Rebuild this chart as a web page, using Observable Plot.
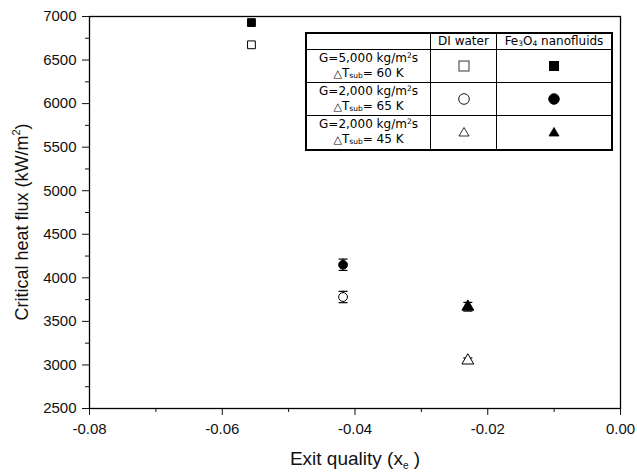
<!DOCTYPE html>
<html>
<head>
<meta charset="utf-8">
<script src="https://cdn.jsdelivr.net/npm/d3@7"></script>
<script src="https://cdn.jsdelivr.net/npm/@observablehq/plot@0.6"></script>
<style>
  body { margin: 0; background: white; }
  #wrap { position: relative; width: 637px; height: 472px; }
  #legend { position: absolute; left: 305px; top: 32px; border-collapse: collapse;
    font-family: "DejaVu Sans", sans-serif; font-size: 12px; color: #000;
    background: white; border: 2px solid #000; }
  #legend td { border: 1px solid #000; padding: 0; text-align: center; line-height: 15px; white-space: nowrap; }
  #legend sub { font-size: 7.5px; vertical-align: -1px; line-height: 0; }
  #legend sup { font-size: 7.5px; vertical-align: 4px; line-height: 0; }
  #legend .tri { font-size: 11px; }
</style>
</head>
<body>
<div id="wrap"></div>
<script>
// ---- data ----
const conditionLine1 = ["G=5,000 kg/m²s", "G=2,000 kg/m²s", "G=2,000 kg/m²s"];
const conditionDT = ["60", "65", "45"];
const conditions = ["G5000_60K", "G2000_65K", "G2000_45K"];
const symbols = ["square", "circle", "triangle"];
const exitQuality = [-0.0556, -0.0418, -0.0230];
const chfWater = [6675, 3780, 3050];
const chfNano = [6930, 4150, 3668];
const errWater = [0, 65, 30];
const errNano = [0, 65, 50];
const fluids = ["DI water", "Fe3O4 nanofluids"];

const xTicks = [-0.08, -0.06, -0.04, -0.02, 0];
const xTickLabels = ["-0.08", "-0.06", "-0.04", "-0.02", "0.00"];
const xMinor = [-0.07, -0.05, -0.03, -0.01];
const yTicks = [2500, 3000, 3500, 4000, 4500, 5000, 5500, 6000, 6500, 7000];
const yMinor = [2750, 3250, 3750, 4250, 4750, 5250, 5750, 6250, 6750];

const points = [];
conditions.forEach((c, i) => {
  points.push({cond: c, fluid: fluids[0], x: exitQuality[i], y: chfWater[i], err: errWater[i]});
  points.push({cond: c, fluid: fluids[1], x: exitQuality[i], y: chfNano[i], err: errNano[i]});
});
const withErr = points.filter(d => d.err > 0);

const cap = {draw(ctx) { ctx.moveTo(-4.5, 0); ctx.lineTo(4.5, 0); }};

const plot = Plot.plot({
  width: 637, height: 472,
  marginLeft: 89, marginRight: 17, marginTop: 16, marginBottom: 64,
  x: {domain: [-0.08, 0]},
  y: {domain: [2500, 7000]},
  symbol: {domain: conditions, range: symbols},
  color: {type: "identity"},
  style: {fontFamily: "'Liberation Sans', Arial, sans-serif", fontSize: "15px", color: "#111", background: "white"},
  marks: [
    Plot.axisX({ticks: xTicks, tickSize: 7, tickPadding: 8, label: null,
      tickFormat: d => xTickLabels[xTicks.indexOf(d)], fontSize: 15}),
    Plot.axisX({ticks: xMinor, tickSize: 4, text: null, label: null}),
    Plot.axisY({ticks: yTicks, tickSize: 7, tickPadding: 6, label: null,
      tickFormat: d => String(d), fontSize: 15}),
    Plot.axisY({ticks: yMinor, tickSize: 4, text: null, label: null}),
    Plot.frame({stroke: "black", strokeWidth: 1.3}),
    Plot.ruleX(withErr, {x: "x", y1: d => d.y - d.err, y2: d => d.y + d.err, stroke: "black", strokeWidth: 1}),
    Plot.dot(withErr, {x: "x", y: d => d.y + d.err, symbol: cap, stroke: "black", strokeWidth: 1.2}),
    Plot.dot(withErr, {x: "x", y: d => d.y - d.err, symbol: cap, stroke: "black", strokeWidth: 1.2}),
    Plot.dot(points, {x: "x", y: "y", symbol: "cond",
      fill: d => d.fluid === fluids[1] ? "black" : "white",
      stroke: "black", strokeWidth: 1, r: 4.4})
  ]
});

const svg = d3.select(plot);
const xt = svg.append("text")
  .attr("x", 355).attr("y", 465).attr("text-anchor", "middle")
  .attr("font-size", 19).attr("fill", "#111");
xt.append("tspan").text("Exit quality (x");
xt.append("tspan").attr("dy", 4).attr("font-size", 10).text("e");
xt.append("tspan").attr("dy", -4).text(" )");

const yt = svg.append("text")
  .attr("transform", "translate(28,222) rotate(-90)").attr("text-anchor", "middle")
  .attr("font-size", 18).attr("fill", "#111");
yt.append("tspan").text("Critical heat flux (kW/m");
yt.append("tspan").attr("dy", -8).attr("font-size", 11).text("2");
yt.append("tspan").attr("dy", 8).text(")");

const wrap = document.getElementById("wrap");
wrap.appendChild(plot);

// ---- legend table ----
function sym(kind, filled) {
  const s = d3.create("svg").attr("width", 14).attr("height", 14).style("vertical-align", "middle");
  const f = filled ? "black" : "white";
  if (kind === "square") s.append("rect").attr("x", filled ? 2.5 : 2).attr("y", filled ? 2.5 : 2)
    .attr("width", filled ? 9 : 10).attr("height", filled ? 9 : 10).attr("fill", f).attr("stroke", "black").attr("stroke-width", filled ? 1 : 0.8);
  if (kind === "circle") s.append("circle").attr("cx", 7).attr("cy", 7).attr("r", 5.3)
    .attr("fill", f).attr("stroke", "black").attr("stroke-width", 0.9);
  if (kind === "triangle") s.append("path").attr("d", "M7,2.5L12,11L2,11Z")
    .attr("fill", f).attr("stroke", "black").attr("stroke-width", 0.8);
  return s.node();
}
const table = document.createElement("table");
table.id = "legend";
const head = table.insertRow();
head.style.height = "14px";
const h0 = head.insertCell(); h0.style.width = "123px";
const h1 = head.insertCell(); h1.style.width = "65px"; h1.textContent = fluids[0];
const h2 = head.insertCell(); h2.style.width = "114px";
h2.innerHTML = "Fe<sub>3</sub>O<sub>4</sub> nanofluids";
conditions.forEach((c, i) => {
  const r = table.insertRow();
  r.style.height = i === 2 ? "34px" : "33px";
  const c0 = r.insertCell();
  c0.innerHTML = conditionLine1[i].replace("²", "<sup>2</sup>") +
    "<br><span class='tri'>△</span>T<sub>sub</sub>= " + conditionDT[i] + " K";
  r.insertCell().appendChild(sym(symbols[i], false));
  r.insertCell().appendChild(sym(symbols[i], true));
});
wrap.appendChild(table);
</script>
</body>
</html>
